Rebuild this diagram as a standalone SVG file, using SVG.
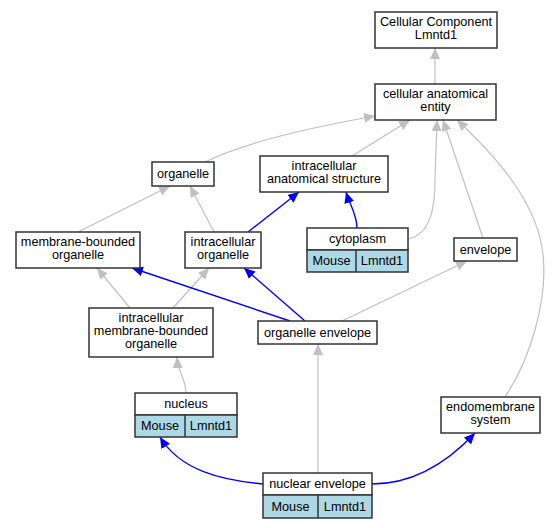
<svg xmlns="http://www.w3.org/2000/svg" width="556" height="528" viewBox="0 0 556 528">
<defs>
<style>
.n rect{fill:#fff;stroke:#333;stroke-width:1.5}
.n rect.c{fill:#add8e6}
.n line{stroke:#333;stroke-width:1.5}
text{font-family:"Liberation Sans",Arial,sans-serif;font-size:12.7px;fill:#000;text-anchor:middle}
.g{fill:none;stroke:#c0c0c0;stroke-width:1.2;marker-end:url(#ag)}
.b{fill:none;stroke:#0000ff;stroke-width:1.4;marker-end:url(#ab)}
</style>
<marker id="ag" markerUnits="userSpaceOnUse" markerWidth="12" markerHeight="10" refX="11" refY="5" orient="auto"><path d="M0,0 L11,5 L0,10 z" fill="#c0c0c0"/></marker>
<marker id="ab" markerUnits="userSpaceOnUse" markerWidth="12" markerHeight="10" refX="11" refY="5" orient="auto"><path d="M0,0 L11,5 L0,10 z" fill="#0000ff"/></marker>
</defs>
<rect width="556" height="528" fill="#fff"/>
<g id="connectors">
<path class="g" d="M435,84 L435,48"/>
<path class="g" d="M205,162 C250,140 320,126 375,116"/>
<path class="g" d="M352,156 L410,120"/>
<path class="g" d="M408,239 C430,234 435,210 435,180 L437,120"/>
<path class="g" d="M483,238 L443,120"/>
<path class="g" d="M505,397 C530,360 548,300 543,255 C538,205 500,160 457,120"/>
<path class="g" d="M78,232 L170,186"/>
<path class="g" d="M214,232 L190,186"/>
<path class="b" d="M248,232 L299,192"/>
<path class="b" d="M357,228 C357,215 350,205 346,192"/>
<path class="g" d="M130,308 L97,268"/>
<path class="g" d="M173,308 L209,268"/>
<path class="b" d="M290,321 L132,268"/>
<path class="b" d="M305,321 L244,268"/>
<path class="g" d="M342,321 L467,261"/>
<path class="g" d="M186,393 C186,380 178,372 177,357"/>
<path class="g" d="M318,473 L318,344"/>
<path class="b" d="M263,484 C220,480 180,470 160,437"/>
<path class="b" d="M372,484 C410,484 445,465 475,433"/>
</g>
<g id="cc" class="n"><rect x="375" y="12" width="122" height="36"/><text x="436" y="26">Cellular Component</text><text x="436" y="39">Lmntd1</text></g>
<g id="cae" class="n"><rect x="375" y="84" width="121" height="36"/><text x="435.5" y="98">cellular anatomical</text><text x="435.5" y="111">entity</text></g>
<g id="organelle" class="n"><rect x="152" y="162" width="62" height="24"/><text x="183" y="178">organelle</text></g>
<g id="ias" class="n"><rect x="260" y="156" width="128" height="36"/><text x="324" y="170">intracellular</text><text x="324" y="183">anatomical structure</text></g>
<g id="cytoplasm" class="n"><rect x="307" y="228" width="101" height="22"/><rect class="c" x="307" y="250" width="101" height="22"/><line x1="356" y1="250" x2="356" y2="272"/><text x="357.5" y="243">cytoplasm</text><text x="331.5" y="265">Mouse</text><text x="382" y="265">Lmntd1</text></g>
<g id="mbo" class="n"><rect x="16" y="232" width="124" height="36"/><text x="78" y="246">membrane-bounded</text><text x="78" y="259">organelle</text></g>
<g id="io" class="n"><rect x="185" y="232" width="76" height="36"/><text x="223" y="246">intracellular</text><text x="223" y="259">organelle</text></g>
<g id="envelope" class="n"><rect x="454" y="238" width="63" height="23"/><text x="485.5" y="254">envelope</text></g>
<g id="imbo" class="n"><rect x="89" y="308" width="124" height="49"/><text x="151" y="321.5">intracellular</text><text x="151" y="334.5">membrane-bounded</text><text x="151" y="347.5">organelle</text></g>
<g id="oe" class="n"><rect x="258" y="321" width="119" height="23"/><text x="317.5" y="337">organelle envelope</text></g>
<g id="nucleus" class="n"><rect x="135" y="393" width="102" height="22"/><rect class="c" x="135" y="415" width="102" height="22"/><line x1="185" y1="415" x2="185" y2="437"/><text x="186" y="408">nucleus</text><text x="160" y="430">Mouse</text><text x="211" y="430">Lmntd1</text></g>
<g id="ems" class="n"><rect x="441" y="397" width="99" height="36"/><text x="490.5" y="411">endomembrane</text><text x="490.5" y="424">system</text></g>
<g id="ne" class="n"><rect x="263" y="473" width="109" height="22"/><rect class="c" x="263" y="495" width="109" height="23"/><line x1="318" y1="495" x2="318" y2="518"/><text x="317.5" y="488">nuclear envelope</text><text x="290.5" y="511">Mouse</text><text x="345" y="511">Lmntd1</text></g>
</svg>
